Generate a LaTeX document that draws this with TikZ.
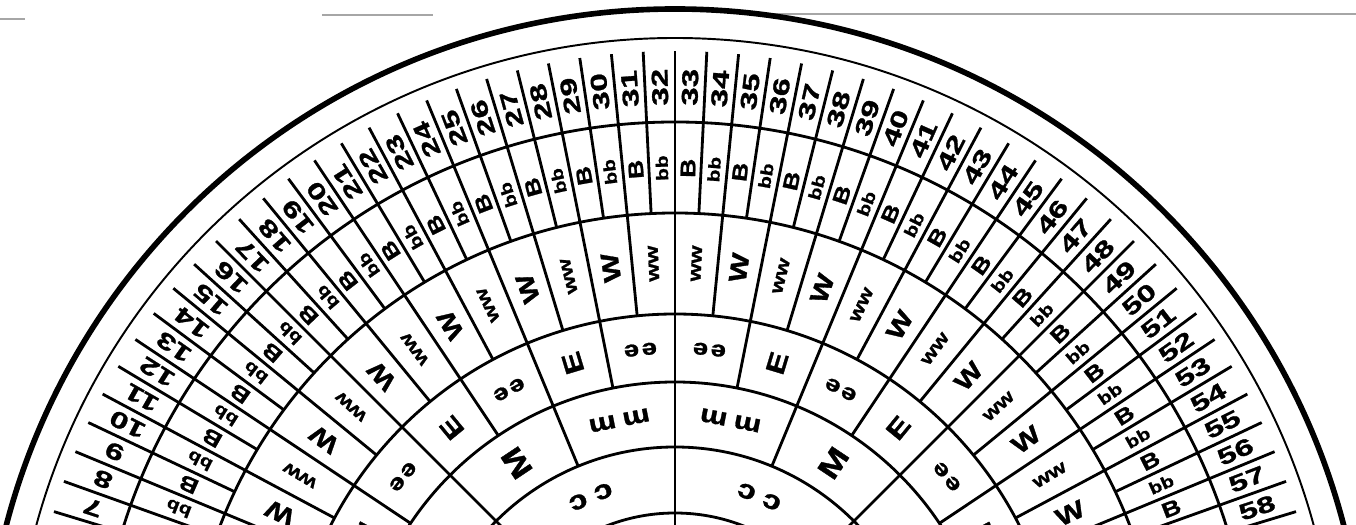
\documentclass[tikz,border=0pt]{standalone}
\usepackage{fontspec}
\newfontfamily\wheelfont[FakeStretch=1.45, BoldFeatures={FakeBold=1.2}]{Liberation Sans}
\newfontfamily\tagfont[FakeStretch=1.25, BoldFeatures={FakeBold=1.2}]{Liberation Sans}
\begin{document}
\begin{tikzpicture}[
    x=0.2mm, y=0.2mm,
    rim/.style={line width=3.2pt},
    band/.style={line width=1.6pt},
    hairband/.style={line width=1.1pt},
    scan/.style={line width=0.6pt, black!35},
    numlab/.style={font=\wheelfont\bfseries\fontsize{13}{13}\selectfont, inner sep=0pt},
    taglab/.style={font=\tagfont\bfseries\fontsize{#1}{#1}\selectfont, inner sep=0pt},
  ]

  % Frame: picture is 1356 x 525 px, wheel centre 700 px below the top edge
  \useasboundingbox (-675,175) rectangle (681,700);
  \clip (-675,175) rectangle (681,700);

  % =================== Page edges ===================
  \draw[scan] (-675,681) -- (-650,681);
  \draw[scan] (-353,685) -- (-242,685);
  \draw[scan] (92,686) -- (681,686);

  % =================== Rings ===================
  \draw[rim] (0,0) circle[radius=691];
  \draw[hairband] (0,0) circle[radius=662];
  \foreach \r in {578,487,386,318,253,187}
    \draw[band] (0,0) circle[radius=\r];

  % =================== Dividers ===================
  % 64 slots over the half disc, 2.8125 deg each
  \foreach \k in {-31,-29,...,31}{
    \pgfmathsetmacro{\a}{90+\k*2.8125}
    \draw[band] (\a:487) -- (\a:649);
  }
  \foreach \k in {-30,-26,...,30}{
    \pgfmathsetmacro{\a}{90+\k*2.8125}
    \draw[band] (\a:386) -- (\a:649);
  }
  \foreach \k in {-28,-20,...,28}{
    \pgfmathsetmacro{\a}{90+\k*2.8125}
    \draw[band] (\a:318) -- (\a:649);
  }
  \foreach \k in {-24,-8,8,24}{
    \pgfmathsetmacro{\a}{90+\k*2.8125}
    \draw[band] (\a:253) -- (\a:649);
  }
  \foreach \k in {-16,16}{
    \pgfmathsetmacro{\a}{90+\k*2.8125}
    \draw[band] (\a:187) -- (\a:649);
  }
  \draw[band] (90:0) -- (90:649);

  % =================== Numbers ===================
  \foreach \n in {6,...,59}{
    \pgfmathsetmacro{\a}{180-(\n-0.5)*2.8125}
    \node[numlab, rotate=\a] (num\n) at (\a:613) {\n};
  }

  % =================== B / bb ===================
  \foreach \n in {7,9,...,59}{
    \pgfmathsetmacro{\a}{180-(\n-0.5)*2.8125}
    \node[taglab=12, rotate=\a] (gb\n) at (\a:532) {B};
  }
  \foreach \n in {6,8,...,58}{
    \pgfmathsetmacro{\a}{180-(\n-0.5)*2.8125}
    \node[taglab=9.5, rotate=\a] (gb\n) at (\a:532) {bb};
  }

  % =================== W / ww ===================
  \foreach \m in {5,7,...,15,18,20,...,28}{
    \pgfmathsetmacro{\a}{180-(\m-0.5)*5.625}
    \node[taglab=14, rotate=\a] (gw\m) at (\a:437) {W};
  }
  \foreach \m in {6,8,...,16,17,19,...,27}{
    \pgfmathsetmacro{\a}{180-(\m-0.5)*5.625}
    \node[taglab=10.5, rotate=\a] (gw\m) at (\a:437) {ww};
  }

  % =================== E / ee ===================
  \foreach \q in {3,5,7,10,12,14}{
    \pgfmathsetmacro{\a}{180-(\q-0.5)*11.25}
    \node[taglab=15, rotate=\a] (ge\q) at (\a:352) {E};
  }
  \foreach \q in {4,6,8,9,11,13}{
    \pgfmathsetmacro{\a}{180-(\q-0.5)*11.25}
    \node[taglab=12.5, rotate=\a+90] (ge\q) at (\a:352) {e\kern1.5pt e};
  }

  % =================== M / mm ===================
  \foreach \q in {3,6}{
    \pgfmathsetmacro{\a}{180-(\q-0.5)*22.5}
    \node[taglab=17, rotate=\a] (gm\q) at (\a:285) {M};
  }
  \foreach \q in {4,5}{
    \pgfmathsetmacro{\a}{180-(\q-0.5)*22.5}
    \node[taglab=14, rotate=\a+90] (gm\q) at (\a:285) {m\kern4pt m};
  }

  % =================== cc ===================
  \foreach \q in {2,3}{
    \pgfmathsetmacro{\a}{180-(\q-0.5)*45}
    \node[taglab=15, rotate=\a+90] (gc\q) at (\a:220) {c\kern5pt c};
  }

\end{tikzpicture}
\end{document}
